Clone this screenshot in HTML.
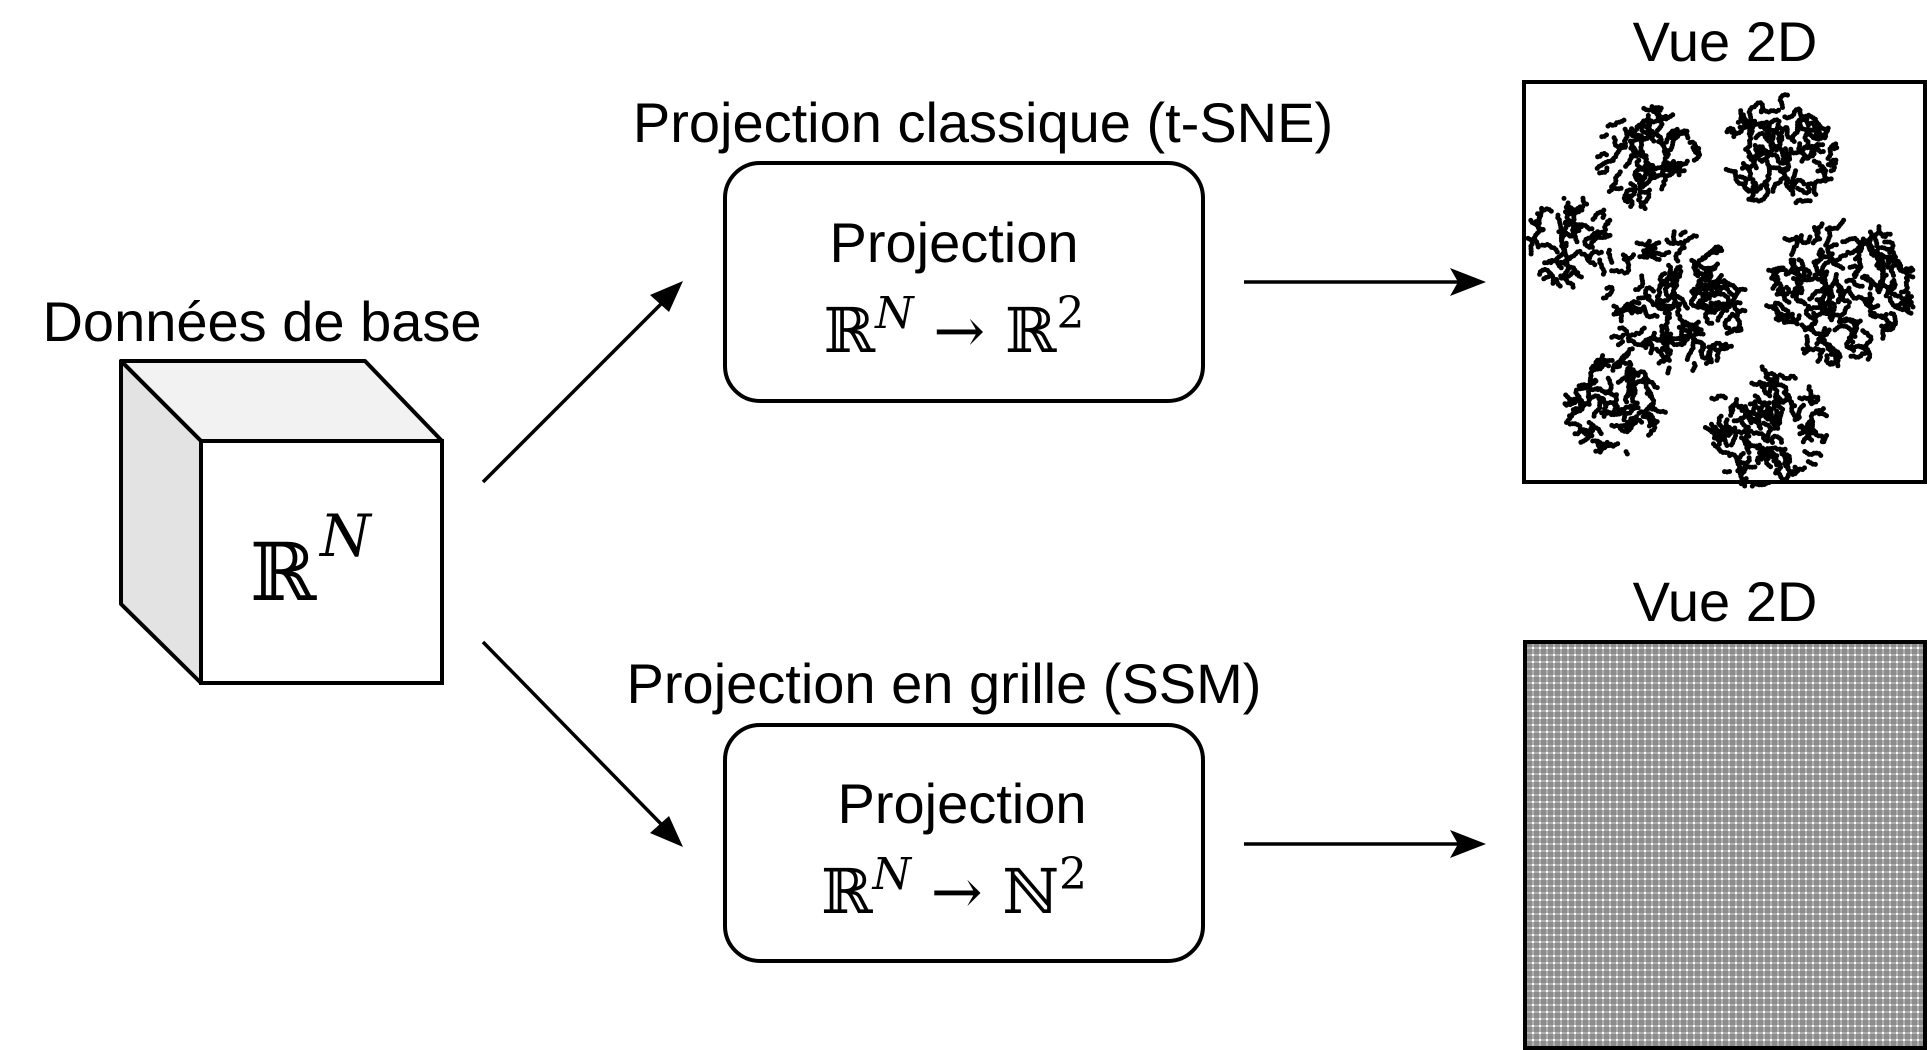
<!DOCTYPE html>
<html><head><meta charset="utf-8"><style>
body{margin:0;width:1928px;height:1044px;background:#fff;overflow:hidden;position:relative;font-family:"Liberation Sans",sans-serif;}
.t{position:absolute;font-size:56px;color:#000;white-space:nowrap;transform:translateX(-50%);line-height:1;}
.m{position:absolute;font-family:"DejaVu Serif","Liberation Serif",serif;font-size:62px;white-space:nowrap;transform:translateX(-50%);line-height:1;}
.m sup{font-style:italic;font-size:44px;vertical-align:24px;}
.box{position:absolute;border:4px solid #000;border-radius:37px;box-sizing:border-box;}
.grid{position:absolute;left:1523px;top:640px;width:404px;height:410px;border:4px solid #000;box-sizing:border-box;
background-color:#fff;
background-image:repeating-linear-gradient(90deg,rgba(110,110,110,.55) 0 5px,rgba(255,255,255,0) 5px 7px),repeating-linear-gradient(0deg,rgba(110,110,110,.55) 0 5px,rgba(255,255,255,0) 5px 7px);}
</style></head><body>
<div class="t" style="left:262px;top:294px">Données de base</div>
<div class="t" style="left:983px;top:95px">Projection classique (t-SNE)</div>
<div class="t" style="left:944px;top:656px">Projection en grille (SSM)</div>
<div class="t" style="left:1725px;top:14px">Vue 2D</div>
<div class="t" style="left:1725px;top:574px">Vue 2D</div>
<div class="box" style="left:723px;top:161px;width:482px;height:242px"></div>
<div class="box" style="left:723px;top:723px;width:482px;height:240px"></div>
<div class="t" style="left:954px;top:215px">Projection</div>
<div class="t" style="left:962px;top:776px">Projection</div>
<div class="m" style="left:954px;top:292px">ℝ<sup>N</sup> → ℝ<sup style="font-style:normal">2</sup></div>
<div class="m" style="left:954px;top:853px">ℝ<sup>N</sup> → ℕ<sup style="font-style:normal">2</sup></div>
<svg style="position:absolute;left:0;top:0" width="1928" height="1044">
<polygon points="121,361 365,361 442,441 201,441" fill="#f2f2f2" stroke="#000" stroke-width="4" stroke-linejoin="round"/>
<polygon points="121,361 201,441 201,683 121,604" fill="#e3e3e3" stroke="#000" stroke-width="4" stroke-linejoin="round"/>
<rect x="201" y="441" width="241" height="242" fill="#fff" stroke="#000" stroke-width="4"/>
<text x="250" y="600" font-family="DejaVu Serif,serif" font-size="80">ℝ</text>
<text x="320" y="556" font-family="DejaVu Serif,serif" font-style="italic" font-size="58">N</text>
<g stroke="#000" stroke-width="3.5">
<line x1="483" y1="482" x2="665" y2="300"/>
<line x1="483" y1="642" x2="665" y2="828"/>
<line x1="1244" y1="282" x2="1465" y2="282"/>
<line x1="1244" y1="844" x2="1465" y2="844"/>
</g>
<polygon points="1486,282 1450,268 1458,282 1450,296"/>
<polygon points="1486,844 1450,830 1458,844 1450,858"/>
<polygon points="683,281 650,295 669,312"/>
<polygon points="683,847 650,833 669,816"/>
<rect x="1524" y="82" width="401" height="400" fill="#fff" stroke="#000" stroke-width="4"/>
<g id="cl" fill="#000"></g>
</svg>
<div class="grid"></div>
<script>
(function(){var s=12345;function r(){s=(s*1103515245+12345)%2147483648;return s/2147483648;}
var c=[[1648,158,52],[1780,152,58],[1571,242,46],[1675,303,72],[1840,290,76],[1615,404,52],[1766,428,62]];
var g=document.getElementById('cl'),h='';
c.forEach(function(k){var n=Math.round(k[2]*k[2]/45);for(var w=0;w<n;w++){var a=r()*6.283,d=Math.sqrt(r())*k[2]*0.92,x=k[0]+Math.cos(a)*d,y=k[1]+Math.sin(a)*d,ang=r()*6.283;
for(var i=0;i<8;i++){ang+=(r()-.5)*1.8;x+=Math.cos(ang)*2.6;y+=Math.sin(ang)*2.6;var dx=x-k[0],dy=y-k[1];if(dx*dx+dy*dy>k[2]*k[2])break;
h+='<circle cx="'+x.toFixed(1)+'" cy="'+y.toFixed(1)+'" r="2.5"/>';}}});
g.innerHTML=h;})();
</script>
</body></html>
